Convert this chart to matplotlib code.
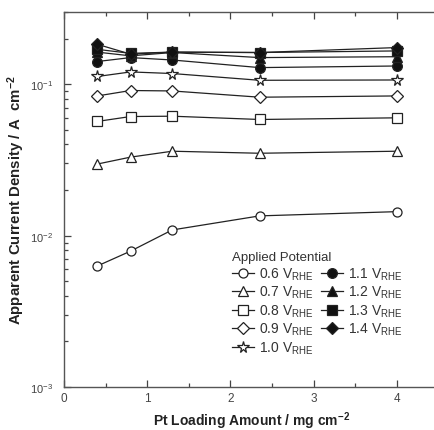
import matplotlib
matplotlib.use("Agg")
import matplotlib.pyplot as plt
import matplotlib.ticker
import numpy as np

plt.rcParams["font.family"] = ["Liberation Sans", "DejaVu Sans"]
plt.rcParams["mathtext.fontset"] = "custom"
plt.rcParams["mathtext.rm"] = "Liberation Sans"
plt.rcParams["mathtext.it"] = "Liberation Sans:italic"
plt.rcParams["mathtext.bf"] = "Liberation Sans:bold"
plt.rcParams["axes.unicode_minus"] = False

# Pt loading (mg cm-2)
loading = [0.4, 0.8, 1.3, 2.35, 4.0]

# Apparent current density (A cm-2) per applied potential
potentials = ["0.6", "0.7", "0.8", "0.9", "1.0", "1.1", "1.2", "1.3", "1.4"]
j_06 = [0.0063, 0.0079, 0.0109, 0.0135, 0.0144]
j_07 = [0.0297, 0.0330, 0.0361, 0.0350, 0.0361]
j_08 = [0.0568, 0.0612, 0.0615, 0.0585, 0.0600]
j_09 = [0.0837, 0.0909, 0.0903, 0.0821, 0.0837]
j_10 = [0.1125, 0.1206, 0.1177, 0.1062, 0.1067]
j_11 = [0.1413, 0.1500, 0.1446, 0.1288, 0.1320]
j_12 = [0.1630, 0.1540, 0.1620, 0.1500, 0.1520]
j_13 = [0.1700, 0.1600, 0.1630, 0.1620, 0.1660]
j_14 = [0.1836, 0.1580, 0.1630, 0.1620, 0.1747]
series = [j_06, j_07, j_08, j_09, j_10, j_11, j_12, j_13, j_14]

markers = ["o", "^", "s", "D", "*", "o", "^", "s", "D"]
filled = [False] * 5 + [True] * 4
sizes = [6.5, 7.5, 6.5, 6, 8.5, 7, 7.5, 6.5, 6.5]

fig = plt.figure(figsize=(4.34, 4.31), dpi=100)
ax = fig.add_axes([0.1475, 0.0998, 0.863, 0.870])

for vals, pot, m, f, ms in zip(series, potentials, markers, filled, sizes):
    ax.plot(
        loading, vals,
        marker=m,
        markersize=ms,
        markerfacecolor="#111111" if f else "white",
        markeredgecolor="#222222",
        markeredgewidth=0.9,
        color="#222222",
        linewidth=0.9,
        label=pot + r" V$_{\rm RHE}$",
    )

ax.set_yscale("log")
ax.set_xlim(0, 4.5)
ax.set_ylim(1e-3, 0.3)
ax.xaxis.set_major_locator(matplotlib.ticker.MultipleLocator(1))
ax.xaxis.set_minor_locator(matplotlib.ticker.MultipleLocator(0.5))
ax.xaxis.set_major_formatter(matplotlib.ticker.FormatStrFormatter("%.0f"))
ax.yaxis.set_major_locator(matplotlib.ticker.LogLocator(base=10))
ax.yaxis.set_minor_locator(matplotlib.ticker.LogLocator(base=10, subs=np.arange(2, 10)))
ax.yaxis.set_minor_formatter(matplotlib.ticker.NullFormatter())

ax.tick_params(which="both", direction="in", top=True, right=False,
               colors="#444444", labelsize=8.5, width=0.9)
ax.tick_params(axis="y", which="major", pad=8, labelsize=8)
ax.tick_params(which="major", length=5)
ax.tick_params(which="minor", length=3)
for s in ax.spines.values():
    s.set_color("#555555")
    s.set_linewidth(1.0)
ax.spines["right"].set_visible(False)

ax.set_xlabel(r"Pt Loading Amount / mg cm$^{\mathbf{-2}}$",
              fontsize=10, fontweight="bold", color="#222222", labelpad=4)
ax.set_ylabel(r"Apparent Current Density / A  cm$^{\mathbf{-2}}$",
              fontsize=10.8, fontweight="bold", color="#222222")
ax.yaxis.set_label_coords(-0.1, 0.5)

leg = ax.legend(
    ncol=2,
    loc="upper left",
    bbox_to_anchor=(0.43, 0.38),
    frameon=False,
    title="Applied Potential",
    fontsize=10,
    title_fontsize=9.5,
    handlelength=1.6,
    handletextpad=0.36,
    labelspacing=0.15,
    columnspacing=0.5,
    borderpad=0.0,
)
leg._legend_box.align = "left"
for t in leg.get_texts():
    t.set_color("#333333")
leg.get_title().set_color("#333333")

fig.savefig("out.png", dpi=100)
